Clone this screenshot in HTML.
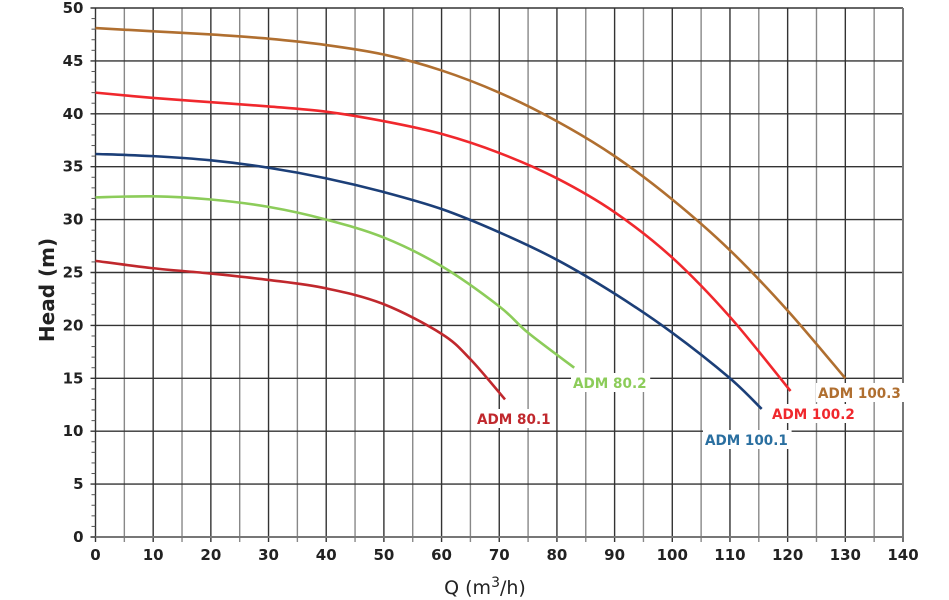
<!DOCTYPE html>
<html><head><meta charset="utf-8"><style>
body{margin:0;background:#fff}
svg{display:block;font-family:"DejaVu Sans","Liberation Sans",sans-serif}
</style></head><body>
<svg id="s" width="949" height="600" xmlns="http://www.w3.org/2000/svg"></svg>
<script>
const s=document.getElementById('s');
const X=q=>95.5+q*(903-95.5)/140, Y=h=>537-h*(529/50);
let o='';
for(let q=0;q<=140;q+=5){const c=q%10==0?'#333':'#888';o+=`<line x1="${X(q)}" y1="${Y(50)}" x2="${X(q)}" y2="${Y(0)+5}" stroke="${c}" stroke-width="1.4"/>`;}
for(let h=0;h<=50;h+=5){o+=`<line x1="${X(0)-5}" y1="${Y(h)}" x2="${X(140)}" y2="${Y(h)}" stroke="#333" stroke-width="1.4"/>`;}
for(let h=0;h<=50;h++){if(h%5)o+=`<line x1="${X(0)-4}" y1="${Y(h)}" x2="${X(0)}" y2="${Y(h)}" stroke="#555" stroke-width="1"/>`;}
o+=`<line x1="${X(0)}" y1="${Y(0)}" x2="${X(140)}" y2="${Y(0)}" stroke="#777" stroke-width="2"/>`;
o+=`<line x1="${X(140)}" y1="${Y(50)}" x2="${X(140)}" y2="${Y(0)}" stroke="#777" stroke-width="2"/>`;
for(let h=0;h<=50;h+=5)o+=`<text x="${X(0)-12}" y="${Y(h)+5}" text-anchor="end" font-size="15" font-weight="bold" fill="#222">${h}</text>`;
for(let q=0;q<=140;q+=10)o+=`<text x="${X(q)}" y="560" text-anchor="middle" font-size="15" font-weight="bold" fill="#222">${q}</text>`;
o+=`<text transform="translate(54,290) rotate(-90)" text-anchor="middle" font-size="20" font-weight="bold" fill="#222">Head (m)</text>`;
o+=`<text x="485" y="594" text-anchor="middle" font-size="19" fill="#222">Q (m<tspan font-size="14" dy="-7">3</tspan><tspan dy="7">/h)</tspan></text>`;
const C=[
['#c0282d',[[0,26.1],[10,25.4],[20,24.9],[30,24.3],[40,23.5],[50,22],[60,19.2],[65,16.8],[71,13]]],
['#8ccc5a',[[0,32.1],[10,32.2],[20,31.9],[30,31.2],[40,30],[50,28.3],[60,25.6],[70,21.8],[75,19.3],[83,16]]],
['#1c3f78',[[0,36.2],[10,36],[20,35.6],[30,34.9],[40,33.9],[50,32.6],[60,31],[70,28.8],[80,26.2],[90,23],[100,19.3],[110,15],[115.5,12.1]]],
['#f0282d',[[0,42],[10,41.5],[20,41.1],[30,40.7],[40,40.2],[50,39.3],[60,38.1],[70,36.3],[80,33.9],[90,30.7],[100,26.4],[110,20.8],[120.5,13.8]]],
['#b06f30',[[0,48.1],[10,47.8],[20,47.5],[30,47.1],[40,46.5],[50,45.6],[60,44.1],[70,42],[80,39.3],[90,36],[100,31.9],[110,27.1],[120,21.4],[130,15]]]];
for(const [c,d] of C){const p=d.map(([q,h])=>[X(q),Y(h)]);let s=`M${p[0]}`;
for(let i=0;i<p.length-1;i++){const a=p[i-1]||p[i],b=p[i],e=p[i+1],f=p[i+2]||e;
s+=` C${b[0]+(e[0]-a[0])/6},${b[1]+(e[1]-a[1])/6} ${e[0]-(f[0]-b[0])/6},${e[1]-(f[1]-b[1])/6} ${e[0]},${e[1]}`;}
o+=`<path d="${s}" fill="none" stroke="${c}" stroke-width="2.6"/>`;}
const L=[['ADM 80.1',477,424,'#c0282d'],['ADM 80.2',573,388,'#8ccc5a'],['ADM 100.1',705,445,'#2a6fa0'],['ADM 100.2',772,419,'#f0282d'],['ADM 100.3',818,398,'#b06f30']];
for(const [t,x,y,c] of L){o+=`<rect x="${x-2}" y="${y-15}" width="${t.length*9.4+4}" height="19" fill="#fff"/><text x="${x}" y="${y}" font-size="14" font-weight="bold" fill="${c}" textLength="${t.length*9.2}" lengthAdjust="spacingAndGlyphs">${t}</text>`;}
s.innerHTML=o;
</script>
</body></html>
